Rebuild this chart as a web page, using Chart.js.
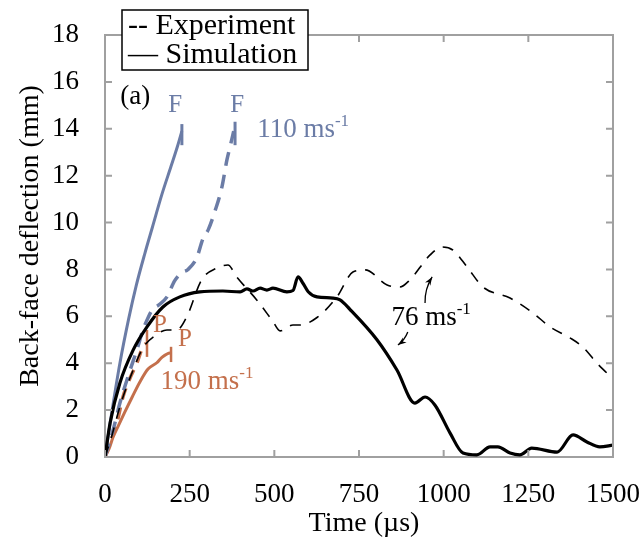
<!DOCTYPE html>
<html>
<head>
<meta charset="utf-8">
<script src="https://cdn.jsdelivr.net/npm/chart.js@4/dist/chart.umd.min.js"></script>
<style>
  body { margin: 0; background: #fff; }
  #wrap { width: 644px; height: 547px; }
</style>
</head>
<body>
<div id="wrap"><canvas id="defl"></canvas></div>
<script>
// data (time in us, deflection in mm)
const simT76 = [0, 15, 44, 83, 124, 171, 221, 280, 348, 399, 419, 437, 458, 478, 496, 537, 555, 570, 585, 600, 626, 673, 694, 723, 803, 862, 915, 945, 974, 1019, 1057, 1098, 1137, 1160, 1196, 1225, 1260, 1335, 1382, 1423, 1461, 1500];
const simD76 = [0, 1.45, 3.16, 4.56, 5.55, 6.4, 6.83, 7.04, 7.08, 7.04, 7.17, 7.08, 7.2, 7.12, 7.2, 7.04, 7.1, 7.68, 7.4, 7.05, 6.83, 6.78, 6.7, 6.3, 5.0, 3.71, 2.3, 2.56, 2.22, 1.02, 0.17, 0.09, 0.43, 0.43, 0.17, 0.09, 0.38, 0.21, 0.94, 0.64, 0.43, 0.51];

const expT76 = [0, 20, 45, 80, 112, 150, 183, 212, 242, 285, 330, 363, 389, 448, 496, 517, 555, 576, 626, 685, 732, 768, 833, 871, 900, 960, 995, 1027, 1069, 1116, 1196, 1264, 1314, 1373, 1411, 1452, 1482, 1500];
const expD76 = [0, 0.9, 2.2, 3.6, 4.65, 5.2, 5.42, 5.42, 6.0, 7.55, 8.06, 8.19, 7.68, 6.7, 5.78, 5.38, 5.63, 5.63, 5.95, 6.83, 7.89, 7.98, 7.34, 7.25, 7.55, 8.62, 8.96, 8.83, 8.11, 7.25, 6.78, 6.14, 5.55, 5.08, 4.69, 4.01, 3.58, 3.3];

const simT110 = [0, 20, 44, 70, 92, 118, 140, 168, 195, 215, 227];
const simD110 = [0, 1.9, 4.0, 5.9, 7.3, 8.7, 9.8, 11.2, 12.4, 13.3, 13.9];

const expT110 = [0, 24, 44, 74, 94, 112, 124, 139, 160, 183, 205, 225, 245, 271, 289, 305, 325, 345, 360, 372, 380];
const expD110 = [0, 1.15, 2.3, 3.7, 4.56, 5.42, 5.84, 6.27, 6.5, 6.83, 7.5, 7.85, 8.0, 8.5, 9.3, 9.7, 10.5, 11.5, 12.67, 13.4, 13.9];

const simT190 = [0, 12, 24, 40, 58, 80, 103, 127, 153, 168, 192, 195];
const simD190 = [0, 0.35, 0.85, 1.35, 1.9, 2.55, 3.2, 3.75, 4.02, 4.25, 4.44, 4.44];

const expT190 = [0, 15, 35, 53, 74, 94, 112, 122];
const expD190 = [0, 0.6, 1.45, 2.56, 3.37, 4.0, 4.7, 4.85];

// failure / perforation marks: time, low, high
const failSim110 = [227, 13.3, 14.2];
const failExp110 = [384, 13.3, 14.3];
const perfSim190 = [195, 4.05, 4.7];
const perfExp190 = [124, 4.27, 5.42];

const xTicks = [0, 250, 500, 750, 1000, 1250, 1500];
const yTicks = [0, 2, 4, 6, 8, 10, 12, 14, 16, 18];

const BLUE = '#6b7ca6';
const ORANGE = '#c4704c';
const SERIF = '"Liberation Serif", "DejaVu Serif", serif';

function pts(ts, ds) {
  return ts.map((t, i) => ({x: t, y: ds[i]}));
}
function mark(m) {
  return [{x: m[0], y: m[1]}, {x: m[0], y: m[2]}];
}

// text notes in data coordinates
const notes = [
  {text: '(a)', x: 89, y: 15.36, color: '#000', size: 27},
  {text: 'F', x: 207, y: 15.0, color: BLUE, size: 25},
  {text: 'F', x: 390, y: 15.0, color: BLUE, size: 25},
  {text: '110 ms', sup: '-1', x: 585, y: 13.95, color: BLUE, size: 27},
  {text: '76 ms', sup: '-1', x: 963, y: 5.93, color: '#000', size: 27},
  {text: '190 ms', sup: '-1', x: 301, y: 3.2, color: ORANGE, size: 27},
  {text: 'P', x: 162, y: 5.63, color: ORANGE, size: 25},
  {text: 'P', x: 236, y: 5.0, color: ORANGE, size: 25}
];
// arrows: from (x0,y0) to (x1,y1)
const arrows = [
  [945, 6.57, 966, 7.68],
  [894, 5.33, 865, 4.78]
];

const framePlugin = {
  id: 'frame',
  afterDraw(chart) {
    const c = chart.ctx;
    const a = chart.chartArea;
    const xs = chart.scales.x, ys = chart.scales.y;
    c.save();
    // box and inward ticks
    c.strokeStyle = '#a0a0a0';
    c.lineWidth = 2;
    c.beginPath();
    c.moveTo(a.left, a.top); c.lineTo(a.right, a.top); c.lineTo(a.right, a.bottom);
    xTicks.forEach(v => {
      const p = xs.getPixelForValue(v);
      c.moveTo(p, a.bottom); c.lineTo(p, a.bottom - 7);
      c.moveTo(p, a.top); c.lineTo(p, a.top + 7);
    });
    yTicks.forEach(v => {
      const p = ys.getPixelForValue(v);
      c.moveTo(a.left, p); c.lineTo(a.left + 7, p);
      c.moveTo(a.right, p); c.lineTo(a.right - 7, p);
    });
    c.stroke();

    // notes
    c.textBaseline = 'middle';
    notes.forEach(n => {
      const px = xs.getPixelForValue(n.x), py = ys.getPixelForValue(n.y);
      c.fillStyle = n.color;
      c.font = n.size + 'px ' + SERIF;
      const w = c.measureText(n.text).width;
      let sw = 0;
      if (n.sup) {
        c.font = Math.round(n.size * 0.62) + 'px ' + SERIF;
        sw = c.measureText(n.sup).width;
      }
      const x0 = px - (w + sw) / 2;
      c.font = n.size + 'px ' + SERIF;
      c.textAlign = 'left';
      c.fillText(n.text, x0, py);
      if (n.sup) {
        c.font = Math.round(n.size * 0.62) + 'px ' + SERIF;
        c.fillText(n.sup, x0 + w, py - n.size * 0.32);
      }
    });

    // arrows
    c.strokeStyle = '#000';
    c.fillStyle = '#000';
    c.lineWidth = 1.3;
    arrows.forEach(ar => {
      const x0 = xs.getPixelForValue(ar[0]), y0 = ys.getPixelForValue(ar[1]);
      const x1 = xs.getPixelForValue(ar[2]), y1 = ys.getPixelForValue(ar[3]);
      const mx = (x0 + x1) / 2 + (y1 - y0) * 0.15, my = (y0 + y1) / 2 - (x1 - x0) * 0.15;
      c.beginPath();
      c.moveTo(x0, y0);
      c.quadraticCurveTo(mx, my, x1, y1);
      c.stroke();
      const ang = Math.atan2(y1 - my, x1 - mx);
      c.beginPath();
      c.moveTo(x1, y1);
      c.lineTo(x1 - 9 * Math.cos(ang - 0.35), y1 - 9 * Math.sin(ang - 0.35));
      c.lineTo(x1 - 6 * Math.cos(ang), y1 - 6 * Math.sin(ang));
      c.lineTo(x1 - 9 * Math.cos(ang + 0.35), y1 - 9 * Math.sin(ang + 0.35));
      c.closePath();
      c.fill();
    });

    // axis titles
    c.fillStyle = '#000';
    c.font = '28px ' + SERIF;
    c.textAlign = 'center';
    c.fillText('Time (\u00b5s)', 364, 524);
    c.save();
    c.translate(31, 236);
    c.rotate(-Math.PI / 2);
    c.fillText('Back-face deflection (mm)', 0, 0);
    c.restore();

    // legend box
    c.fillStyle = '#fff';
    c.fillRect(122, 10, 186, 60);
    c.strokeStyle = '#000';
    c.lineWidth = 1.5;
    c.strokeRect(122, 10, 186, 60);
    c.fillStyle = '#000';
    c.textAlign = 'left';
    c.font = '30px ' + SERIF;
    c.fillText('-- Experiment', 128, 26);
    c.fillText('\u2014 Simulation', 128, 55);
    c.restore();
  }
};

const ctx = document.getElementById('defl').getContext('2d');

const defl = new Chart(ctx, {
  type: 'line',
  data: {
    datasets: [
      {label: 'Experiment 76', data: pts(expT76, expD76), borderColor: '#000', borderWidth: 1.6, borderDash: [11, 9]},
      {label: 'Simulation 76', data: pts(simT76, simD76), borderColor: '#000', borderWidth: 3.2},
      {label: 'Experiment 110', data: pts(expT110, expD110), borderColor: BLUE, borderWidth: 3.5, borderDash: [14, 9]},
      {label: 'Simulation 110', data: pts(simT110, simD110), borderColor: BLUE, borderWidth: 3},
      {label: 'Experiment 190', data: pts(expT190, expD190), borderColor: ORANGE, borderWidth: 3.5, borderDash: [12, 8]},
      {label: 'Simulation 190', data: pts(simT190, simD190), borderColor: ORANGE, borderWidth: 3},
      {label: 'F sim', data: mark(failSim110), borderColor: BLUE, borderWidth: 3},
      {label: 'F exp', data: mark(failExp110), borderColor: BLUE, borderWidth: 3},
      {label: 'P sim', data: mark(perfSim190), borderColor: ORANGE, borderWidth: 2.5},
      {label: 'P exp', data: mark(perfExp190), borderColor: ORANGE, borderWidth: 2.5}
    ]
  },
  options: {
    responsive: true,
    maintainAspectRatio: false,
    animation: false,
    layout: {padding: {left: 0, right: 31, top: 35, bottom: 0}},
    elements: {
      point: {radius: 0},
      line: {cubicInterpolationMode: 'monotone', fill: false, borderCapStyle: 'butt'}
    },
    plugins: {legend: {display: false}, tooltip: {enabled: false}},
    scales: {
      x: {
        type: 'linear', min: 0, max: 1500,
        afterFit: s => { s.height = 90; s.paddingLeft = 0; s.paddingRight = 0; },
        afterBuildTicks: s => { s.ticks = xTicks.map(v => ({value: v})); },
        grid: {display: false},
        border: {display: true, color: '#a0a0a0', width: 2},
        ticks: {color: '#000', padding: 14, maxRotation: 0, font: {family: SERIF, size: 27},
          callback: v => String(v)}
      },
      y: {
        min: 0, max: 18,
        afterFit: s => { s.width = 105; s.paddingTop = 0; s.paddingBottom = 0; },
        afterBuildTicks: s => { s.ticks = yTicks.map(v => ({value: v})); },
        grid: {display: false},
        border: {display: true, color: '#a0a0a0', width: 2},
        ticks: {color: '#000', padding: 18, font: {family: SERIF, size: 27}}
      }
    }
  },
  plugins: [framePlugin]
});
</script>
</body>
</html>
